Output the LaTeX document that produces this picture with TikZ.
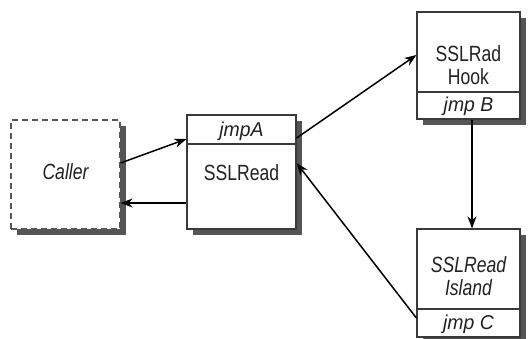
\documentclass[tikz,border=0pt]{standalone}
\usepackage{fontspec}
\setmainfont{Liberation Sans}[FakeStretch=0.97]
\newfontfamily\condfont{Liberation Sans}[FakeStretch=0.8]
\usetikzlibrary{arrows.meta,shadows}
\definecolor{boxc}{HTML}{3A3A3A}
\definecolor{shadowc}{HTML}{555555}
\definecolor{txtc}{HTML}{222222}
\begin{document}
\begin{tikzpicture}[x=1pt,y=-1pt,
  box/.style={draw=boxc, line width=1.2pt, fill=white, inner sep=0pt,
    drop shadow={shadow xshift=6pt, shadow yshift=-6pt, fill=shadowc, opacity=1}},
  dashbox/.style={box, draw=shadowc, dash pattern=on 6pt off 4pt},
  divider/.style={draw=boxc, line width=1.1pt},
  lbl/.style={text=txtc, inner sep=0pt, anchor=base, font=\condfont\fontsize{22}{24}\selectfont},
  ilbl/.style={lbl, font=\condfont\fontsize{22}{24}\selectfont\itshape},
  jlbl/.style={text=txtc, inner sep=0pt, anchor=base, font=\fontsize{20}{22}\selectfont\itshape},
  arr/.style={draw=black, line width=1.5pt, -{Stealth[length=12pt,width=9pt]}}]
\useasboundingbox (0,0) rectangle (529,338);
% boxes
\node[dashbox, minimum width=109pt, minimum height=109pt] (caller) at (65.5,174.5) {};
\node[box, minimum width=109pt, minimum height=114pt] (ssl) at (241.5,172) {};
\node[box, minimum width=103pt, minimum height=107pt] (hook) at (468.5,65.5) {};
\node[box, minimum width=103pt, minimum height=108pt] (island) at (468.5,283) {};
% dividers
\draw[divider] (ssl.west |- 0,144) -- (ssl.east |- 0,144);
\draw[divider] (hook.west |- 0,92) -- (hook.east |- 0,92);
\draw[divider] (island.west |- 0,309) -- (island.east |- 0,309);
% labels
\node[ilbl] (tcaller) at (65.5,179.3) {Caller};
\node[jlbl] (tjmpa) at (241.5,136.7) {jmpA};
\node[lbl] (tssl) at (241.5,180) {SSLRead};
\node[lbl] (thook1) at (468.5,61.7) {SSLRad};
\node[lbl] (thook2) at (468.5,84) {Hook};
\node[jlbl] (tjmpb) at (468.5,111.7) {jmp B};
\node[ilbl] (tisland1) at (468.5,272.7) {SSLRead};
\node[ilbl] (tisland2) at (468.5,295) {Island};
\node[jlbl] (tjmpc) at (468.5,329) {jmp C};
% connectors
\draw[arr] ([yshift=11.5pt]caller.east) -- ([yshift=33pt]ssl.west);
\draw[arr] ([yshift=-31pt]ssl.west) -- ([yshift=-28.5pt]caller.east);
\draw[arr] ([yshift=34pt]ssl.east) -- ([yshift=10.5pt]hook.west);
\draw[arr] ([xshift=3.5pt]hook.south) -- ([xshift=3.5pt]island.north);
\draw[arr] ([yshift=-35pt]island.west) -- ([yshift=9pt]ssl.east);
\end{tikzpicture}
\end{document}
